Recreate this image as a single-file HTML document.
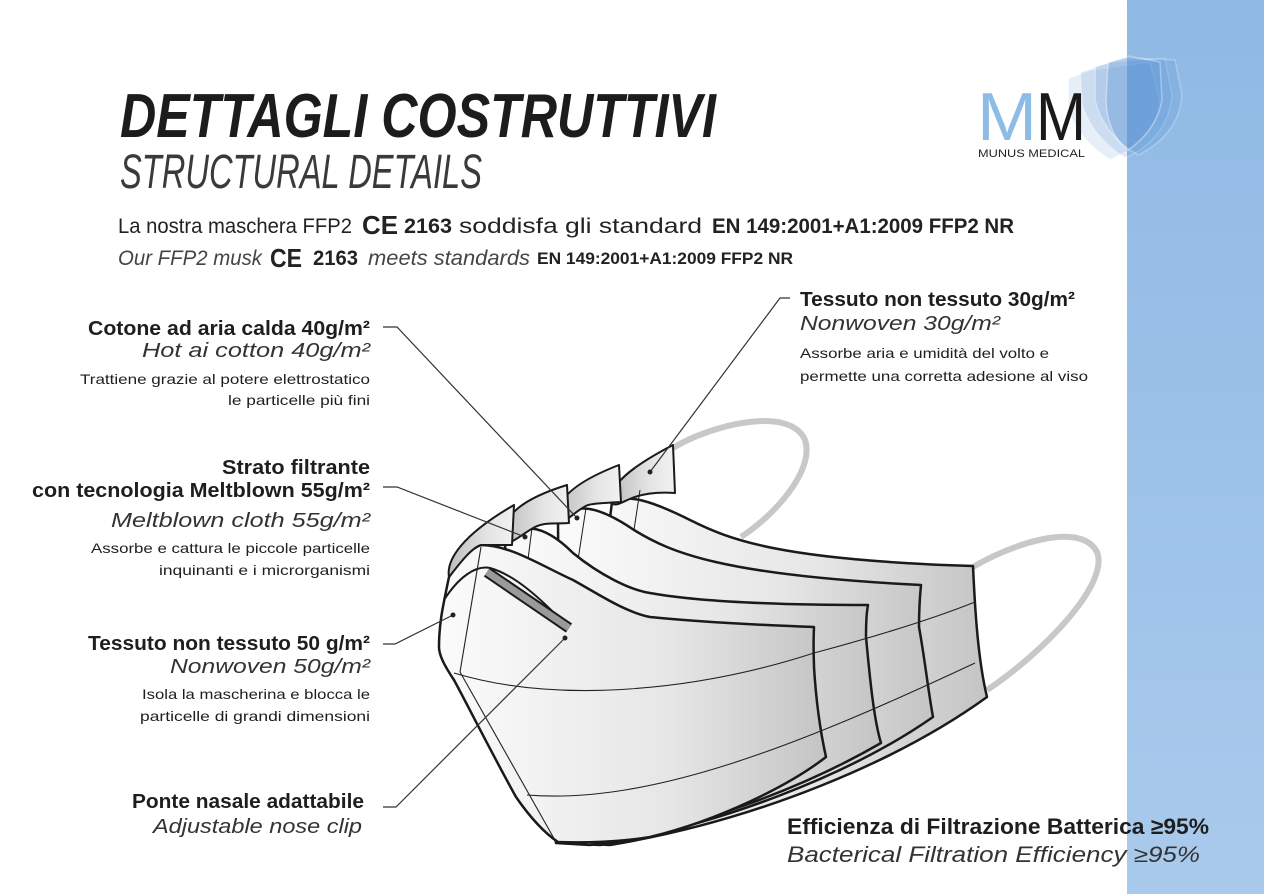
<!DOCTYPE html>
<html><head><meta charset="utf-8"><style>
html,body{margin:0;padding:0;background:#fff;}
svg{display:block;font-family:"Liberation Sans",sans-serif;}
</style></head><body>
<svg width="1264" height="894" viewBox="0 0 1264 894" xmlns="http://www.w3.org/2000/svg">
<defs>
<linearGradient id="band" x1="0" y1="0" x2="0" y2="1"><stop offset="0" stop-color="#8fb9e4"/><stop offset="1" stop-color="#a9caec"/></linearGradient>
<linearGradient id="body" x1="0" y1="0" x2="1" y2="0"><stop offset="0" stop-color="#fbfbfb"/><stop offset="0.6" stop-color="#e6e6e6"/><stop offset="1" stop-color="#c4c4c4"/></linearGradient>
<linearGradient id="tab" x1="0" y1="0" x2="1" y2="0"><stop offset="0" stop-color="#bdbdbd"/><stop offset="0.6" stop-color="#e4e4e4"/><stop offset="1" stop-color="#f2f2f2"/></linearGradient>
</defs>
<rect x="1127" y="0" width="137" height="894" fill="url(#band)"/>
<!-- logo shields -->
<g fill="#5b93d6" stroke="#ffffff" stroke-width="1.5">
<path d="M1068,78 L1090,70 L1150,62 L1160,100 C1158,130 1135,150 1110,160 C1090,148 1075,130 1068,110 Z" opacity="0.15"/>
<path d="M1080,72 L1110,62 L1165,58 L1172,95 C1170,125 1150,148 1125,158 C1103,145 1088,125 1082,105 Z" opacity="0.18"/>
<path d="M1095,66 L1125,58 L1175,60 L1182,95 C1180,125 1160,145 1138,155 C1115,142 1100,122 1095,100 Z" opacity="0.22"/>
<path d="M1108,62 L1128,56 L1160,62 L1162,100 C1158,125 1140,142 1128,150 C1112,138 1106,118 1106,98 Z" opacity="0.3"/>
</g>
<text x="977" y="140" font-size="68" fill="#8dbde6" textLength="60" lengthAdjust="spacingAndGlyphs">M</text>
<text x="1036" y="140" font-size="68" fill="#1a1a1a" textLength="50" lengthAdjust="spacingAndGlyphs">M</text>
<text x="978" y="157" font-size="11" fill="#222" textLength="107" lengthAdjust="spacingAndGlyphs">MUNUS MEDICAL</text>

<!-- headings -->
<text x="120" y="137" font-size="62" font-weight="bold" font-style="italic" fill="#1c1c1c" textLength="596" lengthAdjust="spacingAndGlyphs">DETTAGLI COSTRUTTIVI</text>
<text x="120" y="188" font-size="48" font-style="italic" fill="#3a3a3a" textLength="362" lengthAdjust="spacingAndGlyphs" font-weight="300">STRUCTURAL DETAILS</text>

<g fill="#222" font-size="21">
<text x="118" y="233" textLength="234" lengthAdjust="spacingAndGlyphs">La nostra maschera FFP2</text>
<text x="362" y="234" font-size="26" font-weight="bold" textLength="36" lengthAdjust="spacingAndGlyphs">CE</text>
<text x="404" y="233" font-weight="bold" textLength="48" lengthAdjust="spacingAndGlyphs">2163</text>
<text x="459" y="233" textLength="243" lengthAdjust="spacingAndGlyphs">soddisfa gli standard</text>
<text x="712" y="233" font-weight="bold" textLength="302" lengthAdjust="spacingAndGlyphs">EN 149:2001+A1:2009 FFP2 NR</text>
<text x="118" y="265" font-style="italic" fill="#444" textLength="144" lengthAdjust="spacingAndGlyphs">Our FFP2 musk</text>
<text x="270" y="267" font-size="26" font-weight="bold" textLength="32" lengthAdjust="spacingAndGlyphs">CE</text>
<text x="313" y="265" font-weight="bold" textLength="45" lengthAdjust="spacingAndGlyphs">2163</text>
<text x="368" y="265" font-style="italic" fill="#444" textLength="162" lengthAdjust="spacingAndGlyphs">meets standards</text>
<text x="537" y="264" font-size="17" font-weight="bold" textLength="256" lengthAdjust="spacingAndGlyphs">EN 149:2001+A1:2009 FFP2 NR</text>
</g>

<!-- ear loops -->
<g fill="none" stroke="#c8c8c8" stroke-width="6">
<path d="M673,448 C710,425 790,405 805,440 C815,470 775,515 741,537"/>
<path d="M973,567 C1010,545 1080,520 1097,552 C1110,585 1040,655 987,690"/>
</g>

<!-- mask layers back to front -->
<g stroke="#1a1a1a" stroke-width="2.5" stroke-linejoin="round">
<!-- layer 4 -->
<path d="M612,502 C628,494 650,500 690,520 C730,540 780,560 973,566 C975,610 978,660 987,697 C900,760 760,820 610,845 L570,843 Z" fill="url(#body)"/>
<path d="M612,502 C608,488 625,470 673,445 L675,493 C660,492 645,493 632,498 C622,502 614,508 612,502 Z" fill="url(#tab)" stroke-width="2"/>
<path d="M640,490 L634,530" stroke-width="1" fill="none"/>
<!-- layer 3 -->
<path d="M558,520 C572,506 590,500 634,530 C670,552 720,575 921,585 C919,605 919,620 919,627 C925,660 928,690 933,717 C850,775 720,825 600,845 L560,843 Z" fill="url(#body)"/>
<path d="M558,520 C554,500 575,482 619,465 L621,502 C605,503 595,503 588,505 C575,510 562,528 558,520 Z" fill="url(#tab)" stroke-width="2"/>
<path d="M586,508 L578,560" stroke-width="1" fill="none"/>
<!-- layer 2 -->
<path d="M504,540 C518,525 540,520 573,553 C600,575 630,590 650,593 C700,602 780,605 868,605 C866,615 866,630 866,637 C870,680 874,720 881,743 C800,790 690,830 590,845 L556,843 Z" fill="url(#body)"/>
<path d="M504,540 C500,515 525,498 567,485 L569,523 C555,524 545,522 535,527 C520,535 508,548 504,540 Z" fill="url(#tab)" stroke-width="2"/>
<path d="M532,528 L526,575" stroke-width="1" fill="none"/>
<!-- layer 1 front -->
<path d="M449,577 C460,560 472,548 481,545 C510,545 540,565 573,580 C600,595 625,612 650,617 C700,622 760,625 814,627 C813,650 814,660 814,667 C816,700 820,730 826,757 C790,785 720,820 650,837 C620,842 585,843 558,842 C540,830 525,810 516,797 C490,750 465,700 454,680 C444,665 439,655 439,647 C439,625 442,610 449,577 Z" fill="url(#body)"/>
<path d="M449,577 C446,560 462,535 514,505 L512,545 C500,545 490,545 481,545 C470,548 455,570 449,577 Z" fill="url(#tab)" stroke-width="2"/>
<path d="M444,600 C458,578 475,565 490,568 C515,575 540,598 566,625" fill="none" stroke-width="2"/>
<path d="M487,572 L569,628" stroke="#1a1a1a" stroke-width="11" stroke-linecap="butt" fill="none"/>
<path d="M487,572 L569,628" stroke="#9a9a9a" stroke-width="7" stroke-linecap="butt" fill="none"/>
</g>
<g fill="none" stroke="#222" stroke-width="1.1">
<path d="M481,547 L460,672"/>
<path d="M460,672 L556,842"/>
<path d="M454,673 C560,705 700,690 814,653 C870,638 930,620 975,602"/>
<path d="M527,795 C650,805 800,745 975,663"/>
</g>

<!-- leader lines -->
<g fill="none" stroke="#333" stroke-width="1.2">
<path d="M383,327 L397,327 L577,518"/>
<path d="M383,487 L397,487 L525,537"/>
<path d="M383,644 L395,644 L453,615"/>
<path d="M383,807 L396,807 L565,638"/>
<path d="M790,298 L780,298 L650,472"/>
</g>
<g fill="#222">
<circle cx="577" cy="518" r="2.5"/><circle cx="525" cy="537" r="2.5"/><circle cx="453" cy="615" r="2.5"/><circle cx="565" cy="638" r="2.5"/><circle cx="650" cy="472" r="2.5"/>
</g>

<!-- left labels -->
<g text-anchor="end" fill="#1e1e1e">
<text x="370" y="335" font-size="20" font-weight="bold" textLength="282" lengthAdjust="spacingAndGlyphs">Cotone ad aria calda 40g/m²</text>
<text x="370" y="357" font-size="20" font-style="italic" fill="#333" textLength="228" lengthAdjust="spacingAndGlyphs">Hot ai cotton 40g/m²</text>
<text x="370" y="384" font-size="14" textLength="290" lengthAdjust="spacingAndGlyphs">Trattiene grazie al potere elettrostatico</text>
<text x="370" y="405" font-size="14" textLength="142" lengthAdjust="spacingAndGlyphs">le particelle più fini</text>
<text x="370" y="474" font-size="20" font-weight="bold" textLength="148" lengthAdjust="spacingAndGlyphs">Strato filtrante</text>
<text x="370" y="497" font-size="20" font-weight="bold" textLength="338" lengthAdjust="spacingAndGlyphs">con tecnologia Meltblown 55g/m²</text>
<text x="370" y="527" font-size="20" font-style="italic" fill="#333" textLength="259" lengthAdjust="spacingAndGlyphs">Meltblown cloth 55g/m²</text>
<text x="370" y="553" font-size="14" textLength="279" lengthAdjust="spacingAndGlyphs">Assorbe e cattura le piccole particelle</text>
<text x="370" y="575" font-size="14" textLength="211" lengthAdjust="spacingAndGlyphs">inquinanti e i microrganismi</text>
<text x="370" y="650" font-size="20" font-weight="bold" textLength="282" lengthAdjust="spacingAndGlyphs">Tessuto non tessuto 50 g/m²</text>
<text x="370" y="673" font-size="20" font-style="italic" fill="#333" textLength="200" lengthAdjust="spacingAndGlyphs">Nonwoven 50g/m²</text>
<text x="370" y="699" font-size="14" textLength="228" lengthAdjust="spacingAndGlyphs">Isola la mascherina e blocca le</text>
<text x="370" y="721" font-size="14" textLength="230" lengthAdjust="spacingAndGlyphs">particelle di grandi dimensioni</text>
<text x="364" y="808" font-size="20" font-weight="bold" textLength="232" lengthAdjust="spacingAndGlyphs">Ponte nasale adattabile</text>
<text x="362" y="833" font-size="20" font-style="italic" fill="#333" textLength="209" lengthAdjust="spacingAndGlyphs">Adjustable nose clip</text>
</g>
<!-- right label -->
<g fill="#1e1e1e">
<text x="800" y="306" font-size="20" font-weight="bold" textLength="275" lengthAdjust="spacingAndGlyphs">Tessuto non tessuto 30g/m²</text>
<text x="800" y="330" font-size="20" font-style="italic" fill="#333" textLength="200" lengthAdjust="spacingAndGlyphs">Nonwoven 30g/m²</text>
<text x="800" y="358" font-size="14" textLength="249" lengthAdjust="spacingAndGlyphs">Assorbe aria e umidità del volto e</text>
<text x="800" y="381" font-size="14" textLength="288" lengthAdjust="spacingAndGlyphs">permette una corretta adesione al viso</text>
<text x="787" y="834" font-size="22" font-weight="bold" textLength="422" lengthAdjust="spacingAndGlyphs">Efficienza di Filtrazione Batterica ≥95%</text>
<text x="787" y="862" font-size="22" font-style="italic" fill="#333" textLength="413" lengthAdjust="spacingAndGlyphs">Bacterical Filtration Efficiency ≥95%</text>
</g>
</svg>
</body></html>
